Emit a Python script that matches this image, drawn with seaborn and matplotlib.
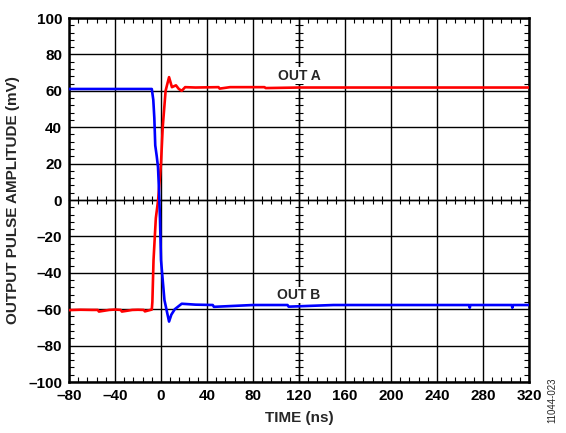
import matplotlib
matplotlib.use("Agg")
import matplotlib.pyplot as plt
import seaborn as sns
import pandas as pd
import numpy as np

sns.set_theme(style="ticks", rc={
    "xtick.direction": "in", "ytick.direction": "in",
    "xtick.top": True, "ytick.right": True,
    "xtick.bottom": True, "ytick.left": True,
    "xtick.minor.visible": True, "ytick.minor.visible": True,
    "xtick.minor.size": 3.5, "ytick.minor.size": 3.5,
    "xtick.minor.width": 0.8, "ytick.minor.width": 0.8,
    "xtick.major.size": 0, "ytick.major.size": 0,
    "xtick.color": "black", "ytick.color": "black",
    "axes.axisbelow": False,
})
plt.rcParams['font.family'] = ['Liberation Sans', 'DejaVu Sans']

# OUT A (red) trace: time (ns), amplitude (mV)
t_a = [-80, -70, -60, -55, -54, -45, -40, -35, -34, -25, -20, -15, -14, -8, -7.5, -6.5, -4.5, -2.5,
       0, 1.5, 4, 7, 9.5, 13, 15.5, 18, 21, 30, 50, 51, 60, 90, 91, 120, 200, 280, 320]
v_a = [-60.5, -60.3, -60.4, -60.4, -61.3, -60.4, -60.2, -60.4, -61.3, -60.4, -60.3, -60.4, -61.2, -60.2,
       -56, -33, -10, 0, 20, 40, 60, 67.5, 62, 63, 61, 60, 62, 61.8, 62, 61.2, 62, 62, 61.5, 61.8, 61.8, 61.8, 61.8]

# OUT B (blue) trace
t_b = [-80, -40, -8, -6.7, -5.8, -5, -3.7, -2.6, -1.7, -0.9, 0, 3, 7, 9, 12, 15, 18, 30, 45, 46, 80,
       110, 111, 150, 200, 268, 268.5, 269, 305, 305.5, 306, 320]
v_b = [61, 61, 61, 55, 45, 30, 24, 18, 5, -10, -33, -55, -66.8, -63, -60, -58.5, -57, -57.5, -57.7,
       -58.7, -57.7, -57.7, -58.6, -57.7, -57.7, -57.7, -59.2, -57.7, -57.7, -59.2, -57.7, -57.7]

x_ticks = [-80, -40, 0, 40, 80, 120, 160, 200, 240, 280, 320]
y_ticks = [-100, -80, -60, -40, -20, 0, 20, 40, 60, 80, 100]

df = pd.concat([
    pd.DataFrame({"t": t_a, "v": v_a, "s": "OUT A"}),
    pd.DataFrame({"t": t_b, "v": v_b, "s": "OUT B"}),
])

fig = plt.figure(figsize=(5.66, 4.33), dpi=100)
pos = [69/566, 1-382/433, 460/566, 364/433]

# center axes with inout ticks (oscilloscope-style), drawn below the main axes
axc = fig.add_axes(pos, facecolor='white')
axc.set_zorder(0)
axc.set_xlim(-80, 320)
axc.set_ylim(-100, 100)
axc.set_xticks(x_ticks)
axc.set_yticks(y_ticks)
axc.set_xticks(np.arange(-80, 321, 8), minor=True)
axc.set_yticks(np.arange(-100, 101, 4), minor=True)
for s in ['top', 'right']:
    axc.spines[s].set_visible(False)
axc.spines['left'].set_position(('data', 120))
axc.spines['bottom'].set_position(('data', 0))
for s in ['left', 'bottom']:
    axc.spines[s].set_linewidth(1.0)
    axc.spines[s].set_color('black')
axc.tick_params(which='minor', direction='inout', length=6, width=0.8,
                top=False, right=False, bottom=True, left=True)
axc.tick_params(which='major', length=0, labelbottom=False, labelleft=False,
                top=False, right=False)

ax = fig.add_axes(pos)
ax.set_zorder(1)
ax.patch.set_visible(False)

sns.lineplot(data=df, x="t", y="v", hue="s", palette={"OUT A": "#ff0000", "OUT B": "#0000ff"},
             sort=False, estimator=None, linewidth=1.9, legend=False, ax=ax, zorder=3)

ax.set_xlim(-80, 320)
ax.set_ylim(-100, 100)
ax.set_xticks(x_ticks)
ax.set_yticks(y_ticks)
ax.set_xticklabels([str(v).replace('-', '\u2013') for v in x_ticks], fontsize=11, fontweight='bold')
ax.set_yticklabels([str(v).replace('-', '\u2013') for v in y_ticks], fontsize=11, fontweight='bold')
ax.set_xticks(np.arange(-80, 321, 8), minor=True)
ax.set_yticks(np.arange(-100, 101, 4), minor=True)
ax.tick_params(which='major', pad=5)
ax.grid(True, which='major', color='black', linewidth=1.0, zorder=1)
for sp in ax.spines.values():
    sp.set_color('black')
    sp.set_linewidth(1.8)

ax.set_xlabel("TIME (ns)", fontsize=11, fontweight='bold', labelpad=6)
ax.set_ylabel("OUTPUT PULSE AMPLITUDE (mV)", fontsize=11, fontweight='bold', labelpad=6)

bb = dict(facecolor='white', edgecolor='none', pad=1.0)
ax.text(120, 68.3, "OUT A", fontsize=10, fontweight='bold', ha='center', va='center', zorder=4, bbox=bb)
ax.text(120, -52.2, "OUT B", fontsize=10, fontweight='bold', ha='center', va='center', zorder=4, bbox=bb)

fig.text(552/566, 1-400/433, "11044-023", rotation=90, fontsize=7, ha='center', va='center')

fig.savefig("out.png", dpi=100)
